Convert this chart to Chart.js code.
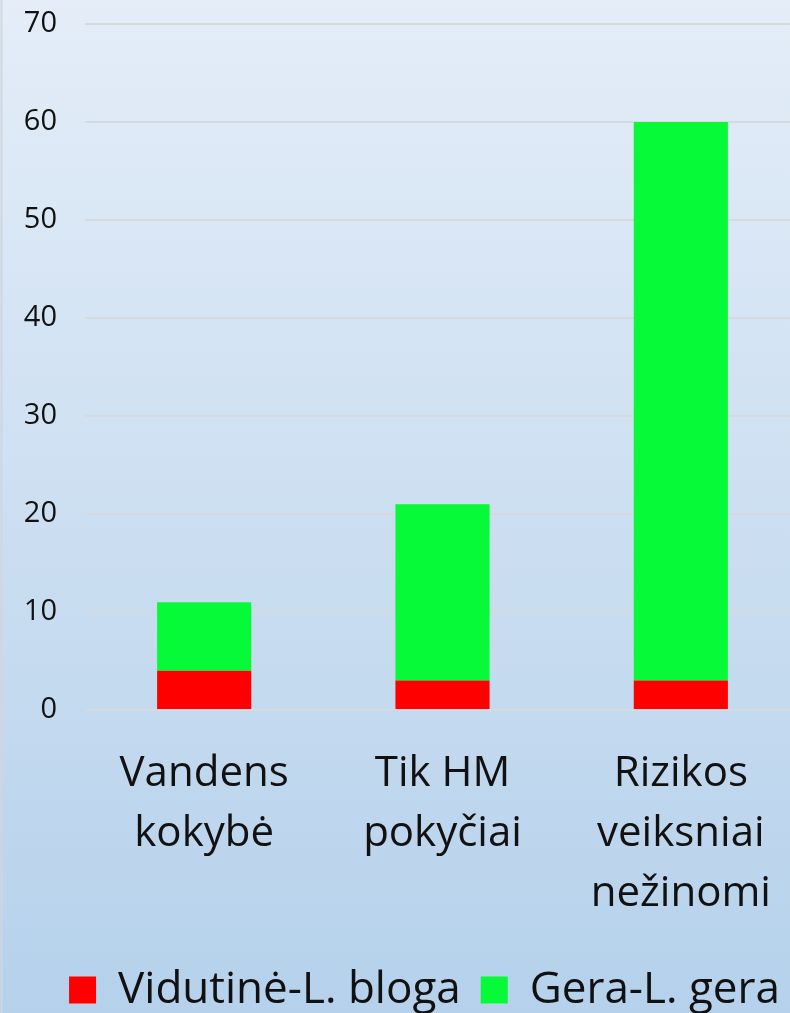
<!DOCTYPE html>
<html><head><meta charset="utf-8">
<script src="https://cdn.jsdelivr.net/npm/chart.js@4/dist/chart.umd.min.js"></script>
<style>html,body{margin:0;padding:0;overflow:hidden;width:790px;height:1013px;}#wrap{width:820px;height:1013px;position:relative;}</style>
</head><body><div id="wrap"><canvas id="c"></canvas></div>
<script>
const categories = [["Vandens","kokybė"],["Tik HM","pokyčiai"],["Rizikos","veiksniai","nežinomi"]];
const seriesNames = ["Vidutinė-L. bloga","Gera-L. gera"];
const vidutine = [4,3,3];
const gera = [7,18,57];
const yTicks = [0,10,20,30,40,50,60,70];

const bgPlugin = {
  id:'bg',
  beforeDraw(chart){
    const ctx = chart.ctx;
    const g = ctx.createLinearGradient(0,0,0,chart.height);
    g.addColorStop(0,'#e4edf8');
    g.addColorStop(1,'#b5d1eb');
    ctx.save();
    ctx.fillStyle = g;
    ctx.fillRect(0,0,chart.width,chart.height);
    ctx.strokeStyle = '#cfd6de';
    ctx.lineWidth = 2;
    ctx.beginPath(); ctx.moveTo(1.5,0); ctx.lineTo(1.5,chart.height); ctx.stroke();
    ctx.restore();
  }
};

new Chart(document.getElementById('c'),{
  type:'bar',
  data:{
    labels:categories,
    datasets:[
      {label:seriesNames[0],data:vidutine,backgroundColor:'#ff0000'},
      {label:seriesNames[1],data:gera,backgroundColor:'#07fa37'}
    ]
  },
  options:{
    responsive:true,
    maintainAspectRatio:false,
    animation:false,
    layout:{padding:{top:24,right:20,left:0,bottom:-9}},
    datasets:{bar:{categoryPercentage:1,barPercentage:0.395}},
    plugins:{
      legend:{
        position:'bottom',
        align:'end',
        labels:{
          boxWidth:27,boxHeight:27,padding:20,
          color:'#111111',
          font:{family:'Open Sans',size:44}
        }
      },
      tooltip:{enabled:false}
    },
    scales:{
      x:{
        stacked:true,
        grid:{display:false},
        border:{display:false},
        afterFit(s){s.height=238;s.paddingLeft=0;s.paddingRight=0;},
        ticks:{color:'#111111',padding:26,maxRotation:0,autoSkip:false,font:{family:'Open Sans',size:42,lineHeight:1.43}}
      },
      y:{
        stacked:true,
        min:0,max:70,
        afterFit(s){s.width=85;s.paddingTop=0;s.paddingBottom=0;},
        afterBuildTicks(s){s.ticks=yTicks.map(v=>({value:v}));},
        grid:{color:'#d6d9dd',lineWidth:2,drawTicks:false},
        border:{display:false},
        ticks:{color:'#111111',padding:28,font:{family:'Open Sans',size:29}}
      }
    }
  },
  plugins:[bgPlugin]
});
</script></body></html>
